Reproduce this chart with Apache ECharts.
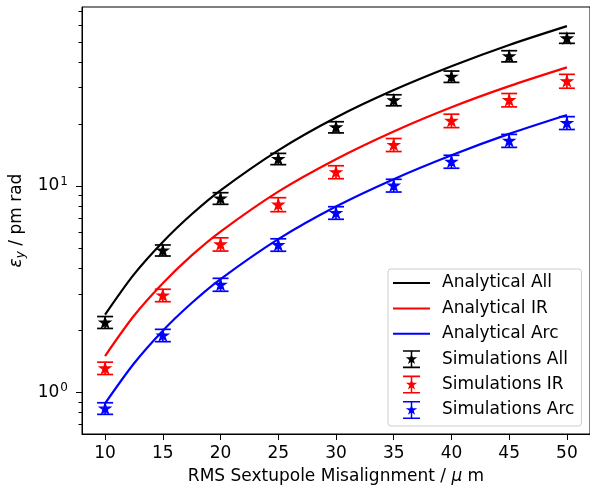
<!DOCTYPE html>
<html>
<head>
<meta charset="utf-8">
<script src="https://cdn.jsdelivr.net/npm/echarts@6/dist/echarts.min.js"></script>
<style>
  html, body { margin: 0; padding: 0; background: #fff; }
  #chart { width: 590px; height: 491px; }
</style>
</head>
<body>
<div id="chart"></div>
<script>
// simulation points (x = RMS misalignment in um)
const misalign = [10, 15, 20, 25, 30, 35, 40, 45, 50];
const simAll = [2.185, 4.88, 8.72, 13.55, 19.3, 26.1, 33.95, 42.65, 52.1];
const errAll = [0.145, 0.30, 0.565, 0.85, 1.2, 1.6, 2.15, 2.65, 2.9];
const simIR = [1.31, 2.955, 5.225, 8.145, 11.7, 15.85, 20.75, 26.15, 32.3];
const errIR = [0.09, 0.205, 0.385, 0.635, 0.845, 1.15, 1.55, 1.95, 2.5];
const simArc = [0.836, 1.89, 3.33, 5.19, 7.42, 10.07, 13.15, 16.6, 20.25];
const errArc = [0.054, 0.13, 0.24, 0.36, 0.52, 0.715, 0.95, 1.2, 1.45];

// analytical curves
const curveX = [10, 12.5, 15, 17.5, 20, 25, 30, 35, 40, 45, 50];
const anaAll = [2.38, 3.73, 5.36, 7.30, 9.54, 14.9, 21.5, 29.2, 38.1, 48.3, 59.6];
const anaIR = [1.50, 2.35, 3.38, 4.61, 6.02, 9.40, 13.5, 18.4, 24.1, 30.5, 37.6];
const anaArc = [0.884, 1.38, 1.99, 2.71, 3.54, 5.53, 7.96, 10.8, 14.1, 17.9, 22.1];

const xTicks = [10, 15, 20, 25, 30, 35, 40, 45, 50];
const yTicks = [1, 10];
const yMinorTicks = [0.7, 0.8, 0.9, 2, 3, 4, 5, 6, 7, 8, 9, 20, 30, 40, 50, 60, 70];

const FONT = 'DejaVu Sans';
const star = 'path://M0,-1L0.2245,-0.309L0.9511,-0.309L0.3633,0.118L0.5878,0.809L0,0.382L-0.5878,0.809L-0.3633,0.118L-0.9511,-0.309L-0.2245,-0.309Z';
const lineIcon = 'path://M0,0L0,0Z M44,18L44,18Z M0,8H37V10H0Z';
const simIcon = 'path://M0,0L0,0Z M44,18L44,18Z M10,0H27V1.6H10Z M10,16.4H27V18H10Z M17.75,0H19.25V18H17.75Z ' +
  'M18.5,3L19.85,7.14L24.21,7.14L20.68,9.71L22.03,13.86L18.5,11.3L14.97,13.86L16.32,9.71L12.79,7.14L17.15,7.14Z';

const zip = (xs, ys) => xs.map((x, i) => [x, ys[i]]);
const bars = (ys, es) => misalign.map((x, i) => [x, ys[i] - es[i], ys[i] + es[i]]);

const lineSeries = (name, ys, color) => ({
  name, type: 'line', data: zip(curveX, ys), smooth: 0.3, showSymbol: false,
  lineStyle: { color, width: 2.2 }, itemStyle: { color }, z: 2
});

const barSeries = (name, ys, es, color) => ({
  name, type: 'custom', data: bars(ys, es), encode: { x: 0, y: [1, 2] },
  itemStyle: { color }, z: 3, clip: false,
  renderItem: (params, api) => {
    const x = api.value(0);
    const lo = api.coord([x, api.value(1)]);
    const hi = api.coord([x, api.value(2)]);
    const hw = 8;
    const st = { stroke: color, lineWidth: 1.7 };
    return {
      type: 'group',
      children: [
        { type: 'line', shape: { x1: hi[0], y1: hi[1], x2: lo[0], y2: lo[1] }, style: st },
        { type: 'line', shape: { x1: hi[0] - hw, y1: hi[1], x2: hi[0] + hw, y2: hi[1] }, style: st },
        { type: 'line', shape: { x1: lo[0] - hw, y1: lo[1], x2: lo[0] + hw, y2: lo[1] }, style: st }
      ]
    };
  }
});

const starSeries = (name, ys, color) => ({
  name, type: 'scatter', data: zip(misalign, ys), symbol: star, symbolSize: 11,
  symbolKeepAspect: true,
  itemStyle: { color, opacity: 1, borderColor: color, borderWidth: 1.2 }, z: 4
});

const chart = echarts.init(document.getElementById('chart'));

chart.setOption({
  animation: false,
  textStyle: { fontFamily: FONT },
  grid: {
    left: 82, right: -3, top: 7, bottom: 57,
    show: true, borderColor: '#000', borderWidth: 1, backgroundColor: 'transparent'
  },
  legend: {
    orient: 'vertical', left: 388, top: 269,
    padding: [5, 7, 7, 5], itemWidth: 44, itemHeight: 18, itemGap: 7.4,
    borderColor: '#cccccc', borderWidth: 1, borderRadius: 3,
    backgroundColor: 'rgba(255,255,255,0.8)',
    itemStyle: { borderWidth: 0 },
    textStyle: { fontSize: 17, color: '#000', fontFamily: FONT },
    symbolKeepAspect: true,
    selectedMode: false,
    data: [
      { name: 'Analytical All', icon: lineIcon },
      { name: 'Analytical IR', icon: lineIcon },
      { name: 'Analytical Arc', icon: lineIcon },
      { name: 'Simulations All', icon: simIcon },
      { name: 'Simulations IR', icon: simIcon },
      { name: 'Simulations Arc', icon: simIcon }
    ]
  },
  xAxis: {
    type: 'value', min: 8, max: 52,
    name: 'RMS Sextupole Misalignment / {m|μ} m',
    nameLocation: 'middle', nameGap: 34,
    nameTextStyle: {
      fontSize: 17, color: '#000', fontFamily: FONT,
      rich: { m: { fontSize: 17, fontStyle: 'italic', fontFamily: FONT, color: '#000' } }
    },
    splitLine: { show: false },
    axisLine: { lineStyle: { color: '#000', width: 1 } },
    axisTick: { customValues: xTicks, length: 6, lineStyle: { color: '#000', width: 1 } },
    axisLabel: { customValues: xTicks, fontSize: 17, color: '#000', margin: 11, fontFamily: FONT }
  },
  yAxis: [
    {
      type: 'log', min: 0.628, max: 73.8,
      name: '{e|ε}{s|y} / pm rad',
      nameLocation: 'middle', nameGap: 52, nameRotate: 90,
      nameTextStyle: {
        fontSize: 17, color: '#000', fontFamily: FONT,
        rich: {
          e: { fontSize: 17, fontStyle: 'italic', fontFamily: FONT, color: '#000' },
          s: { fontSize: 12, fontStyle: 'italic', fontFamily: FONT, color: '#000', padding: [8, 0, 0, 0] }
        }
      },
      splitLine: { show: false },
      axisLine: { show: true, lineStyle: { color: '#000', width: 1 } },
      axisTick: { customValues: yTicks, length: 6, lineStyle: { color: '#000', width: 1 } },
      axisLabel: {
        customValues: yTicks, color: '#000', margin: 14, fontFamily: FONT,
        formatter: v => '{b|10}{p|' + Math.round(Math.log10(v)) + '}',
        rich: {
          b: { fontSize: 17, fontFamily: FONT, color: '#000' },
          p: { fontSize: 12, fontFamily: FONT, color: '#000', padding: [0, 0, 9, 1] }
        }
      }
    },
    {
      type: 'log', min: 0.628, max: 73.8, position: 'left',
      splitLine: { show: false },
      axisLine: { show: false },
      axisLabel: { show: false },
      axisTick: { customValues: yMinorTicks, length: 3.5, lineStyle: { color: '#000', width: 1 } }
    }
  ],
  series: [
    lineSeries('Analytical All', anaAll, '#000000'),
    lineSeries('Analytical IR', anaIR, '#ff0000'),
    lineSeries('Analytical Arc', anaArc, '#0000ff'),
    barSeries('Simulations All', simAll, errAll, '#000000'),
    barSeries('Simulations IR', simIR, errIR, '#ff0000'),
    barSeries('Simulations Arc', simArc, errArc, '#0000ff'),
    starSeries('Simulations All', simAll, '#000000'),
    starSeries('Simulations IR', simIR, '#ff0000'),
    starSeries('Simulations Arc', simArc, '#0000ff')
  ]
});
</script>
</body>
</html>
